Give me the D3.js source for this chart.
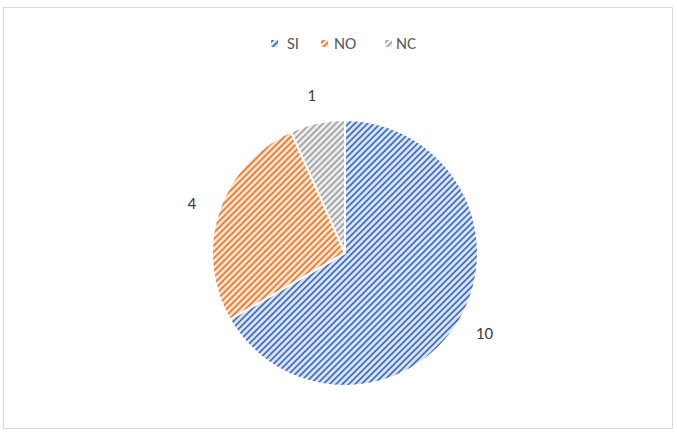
<!DOCTYPE html>
<html><head><meta charset="utf-8">
<script src="https://cdn.jsdelivr.net/npm/d3@7"></script>
<style>body{margin:0;background:#fff}svg{display:block}</style>
</head><body>
<svg id="c" width="677" height="432"></svg>
<script>
const categories = ["SI", "NO", "NC"];
const values = [10, 4, 1];
const colors = ["#4472C4", "#ED7D31", "#A5A5A5"];
const bgTints = ["#dbe4f5", "#fbe2d1", "#ececec"];

const svg = d3.select("#c");
svg.append("rect").attr("x",3.5).attr("y",7.5).attr("width",669).attr("height",421)
  .attr("fill","#fff").attr("stroke","#d9d9d9");

const defs = svg.append("defs");
categories.forEach((c,i)=>{
  const p = defs.append("pattern").attr("id","pat"+i).attr("patternUnits","userSpaceOnUse")
    .attr("width",4.5).attr("height",4.5).attr("patternTransform","rotate(45)");
  p.append("rect").attr("width",4.5).attr("height",4.5).attr("fill",bgTints[i]);
  p.append("rect").attr("x",0).attr("width",1.8).attr("height",4.5).attr("fill",colors[i]);
});

const cx = 345, cy = 253, r = 133;
const pie = d3.pie().sort(null).value(d=>d);
const arcs = pie(values);
const arc = d3.arc().innerRadius(0).outerRadius(r);
const g = svg.append("g").attr("transform",`translate(${cx},${cy})`);
g.selectAll("path").data(arcs).join("path")
  .attr("d",arc).attr("fill",(d,i)=>`url(#pat${i})`)
  .attr("stroke","#fff").attr("stroke-width",2);

const lr = 161;
const labelArc = d3.arc().innerRadius(lr).outerRadius(lr);
g.selectAll("text.lab").data(arcs).join("text").attr("class","lab")
  .attr("transform",d=>{const [x,y]=labelArc.centroid(d);return `translate(${x},${y})`;})
  .attr("text-anchor","middle").attr("dominant-baseline","central")
  .attr("font-family","Carlito, 'Open Sans', sans-serif").attr("font-size",17)
  .attr("fill","#404040").text(d=>d.data);

// legend
const legendX = [271, 321, 385];
const legendTextX = [287, 334, 396];
const lg = svg.append("g");
categories.forEach((c,i)=>{
  lg.append("rect").attr("x",legendX[i]).attr("y",40).attr("width",7).attr("height",7)
    .attr("fill",`url(#pat${i})`);
  lg.append("text").attr("x",legendTextX[i]).attr("y",43.5).attr("dominant-baseline","central")
    .attr("font-family","Carlito, 'Open Sans', sans-serif").attr("font-size",17)
    .attr("fill","#595959").text(c);
});
</script>
</body></html>
